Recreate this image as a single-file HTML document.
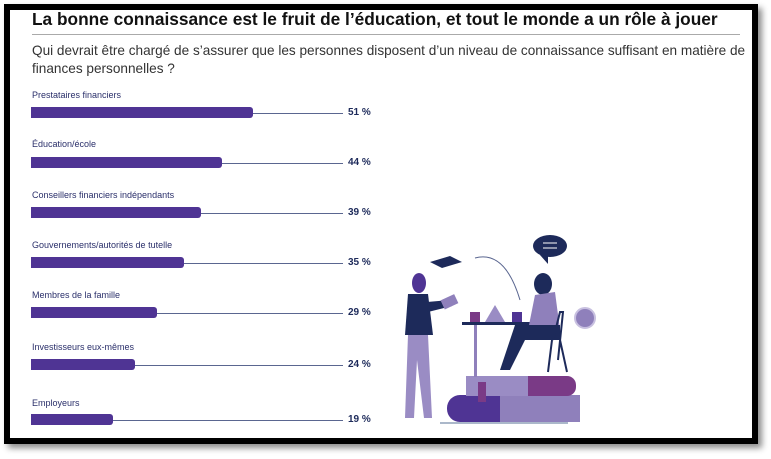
<!DOCTYPE html>
<html><head><meta charset="utf-8"><style>
body{margin:0;width:771px;height:459px;background:#fff;position:relative;overflow:hidden;font-family:"Liberation Sans",sans-serif}
.frame{position:absolute;left:4px;top:4px;width:742px;height:428px;border:6px solid #000;box-shadow:4px 4px 6px rgba(0,0,0,.45);background:#fff}
.t{position:absolute;left:32px;top:9px;font-size:17.3px;font-weight:bold;color:#111;white-space:nowrap}
.hr{position:absolute;left:32px;top:34px;width:708px;height:1px;background:#aaa}
.s{position:absolute;left:32px;top:42px;font-size:13.6px;line-height:18px;color:#333;width:720px}
.l{position:absolute;left:32px;font-size:9px;color:#2a2f6a}
.b{position:absolute;left:31px;height:11px;background:#4f3494;border-radius:0 3px 3px 0}
.ln{position:absolute;height:1px;background:#5a6690}
.v{position:absolute;left:348px;font-size:10px;font-weight:bold;color:#1d2a5a}
</style></head><body>
<div class="frame"></div>
<div class="t">La bonne connaissance est le fruit de l’éducation, et tout le monde a un rôle à jouer</div>
<div class="hr"></div>
<div class="s">Qui devrait être chargé de s’assurer que les personnes disposent d’un niveau de connaissance suffisant en matière de finances personnelles ?</div>

<div class="l" style="top:90px">Prestataires financiers</div>
<div class="b" style="top:107px;width:222px"></div><div class="ln" style="top:113px;left:253px;width:90px"></div><div class="v" style="top:107px">51 %</div>

<div class="l" style="top:139px">Éducation/école</div>
<div class="b" style="top:157px;width:191px"></div><div class="ln" style="top:163px;left:222px;width:121px"></div><div class="v" style="top:157px">44 %</div>

<div class="l" style="top:190px">Conseillers financiers indépendants</div>
<div class="b" style="top:207px;width:170px"></div><div class="ln" style="top:213px;left:201px;width:142px"></div><div class="v" style="top:207px">39 %</div>

<div class="l" style="top:240px">Gouvernements/autorités de tutelle</div>
<div class="b" style="top:257px;width:153px"></div><div class="ln" style="top:263px;left:184px;width:159px"></div><div class="v" style="top:257px">35 %</div>

<div class="l" style="top:290px">Membres de la famille</div>
<div class="b" style="top:307px;width:126px"></div><div class="ln" style="top:313px;left:157px;width:186px"></div><div class="v" style="top:307px">29 %</div>

<div class="l" style="top:342px">Investisseurs eux-mêmes</div>
<div class="b" style="top:359px;width:104px"></div><div class="ln" style="top:365px;left:135px;width:208px"></div><div class="v" style="top:359px">24 %</div>

<div class="l" style="top:398px">Employeurs</div>
<div class="b" style="top:414px;width:82px"></div><div class="ln" style="top:420px;left:113px;width:230px"></div><div class="v" style="top:414px">19 %</div>

<svg style="position:absolute;left:0;top:0" width="771" height="459">
<rect x="447" y="395" width="115" height="27" rx="13" fill="#4f3494"/>
<rect x="500" y="395" width="80" height="27" fill="#8f80bb"/>
<rect x="466" y="376" width="110" height="20" rx="9" fill="#7a3a86"/>
<rect x="466" y="376" width="62" height="20" fill="#9a8cc4"/>
<rect x="478" y="382" width="8" height="20" fill="#7a3a86"/>
<line x1="440" y1="423" x2="568" y2="423" stroke="#8fa0b8" stroke-width="1.5"/>
<ellipse cx="419" cy="283" rx="7" ry="10" fill="#4f3494"/>
<path d="M408 294 L428 294 L433 335 L405 335 Z" fill="#1d2a5a"/>
<path d="M408 335 L428 335 L432 418 L424 418 L417 360 L414 418 L405 418 Z" fill="#9a8cc4"/>
<path d="M427 302 L450 300 L452 306 L428 312 Z" fill="#1d2a5a"/>
<rect x="442" y="297" width="15" height="10" fill="#8f80bb" transform="rotate(-25 449 302)"/>
<path d="M430 262 L450 256 L462 262 L442 268 Z" fill="#1d2a5a"/>
<rect x="462" y="322" width="80" height="3" fill="#1d2a5a"/>
<rect x="474" y="325" width="3" height="52" fill="#8f80bb"/>
<rect x="470" y="312" width="10" height="10" fill="#7a3a86"/>
<path d="M485 322 L505 322 L495 305 Z" fill="#9a8cc4"/>
<ellipse cx="543" cy="284" rx="9" ry="11" fill="#1d2a5a"/>
<path d="M535 295 L555 292 L560 330 L528 330 Z" fill="#8f80bb"/>
<path d="M515 325 L560 325 L560 340 L525 340 L510 370 L500 370 Z" fill="#1d2a5a"/>
<rect x="512" y="312" width="10" height="10" fill="#4f3494"/>
<path d="M553 340 L560 312 L563 312 L558 360 M552 340 L548 372 M560 340 L567 372" stroke="#1d2a5a" stroke-width="2" fill="none"/>
<circle cx="585" cy="318" r="10" fill="#8f80bb" stroke="#c8c0e0" stroke-width="2"/>
<ellipse cx="550" cy="246" rx="17" ry="11" fill="#1d2a5a"/>
<path d="M540 255 L548 264 L548 255 Z" fill="#1d2a5a"/>
<line x1="543" y1="243" x2="557" y2="243" stroke="#fff"/><line x1="543" y1="248" x2="557" y2="248" stroke="#fff"/>
<path d="M475 258 Q505 250 520 300" stroke="#5a6690" fill="none"/>
</svg>
</body></html>
